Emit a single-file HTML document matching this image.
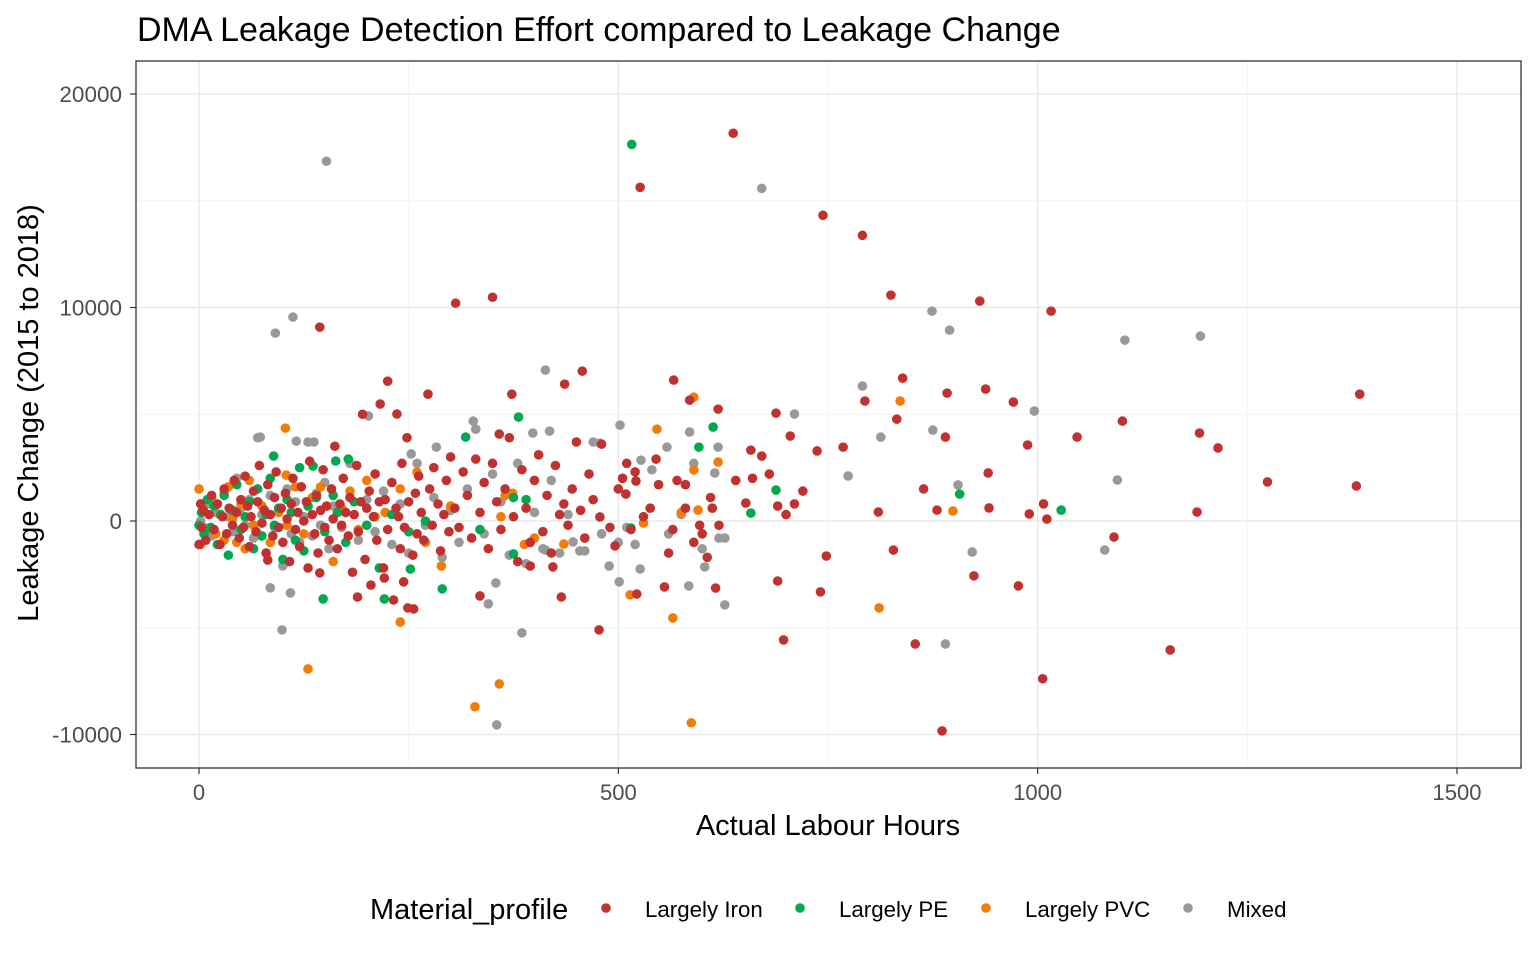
<!DOCTYPE html>
<html><head><meta charset="utf-8"><style>
body{margin:0;background:#fff;}
svg{display:block;font-family:"Liberation Sans",Arial,sans-serif;}
</style></head><body>
<svg id="chart" width="1536" height="960"></svg>
<script>
const xTicks=[0,500,1000,1500];
const xMinor=[250,750,1250];
const yTicks=[20000,10000,0,-10000];
const yMinor=[15000,5000,-5000];
const categories=["Largely Iron","Largely PE","Largely PVC","Mixed"];
const colors=["#c1312f","#00a84f","#f47b08","#999999"];
const ironPts=[[637,18160],[526,15630],[744,14320],[791,13380],[825,10580],[931,10300],[1016,9830],[306,10200],[350,10480],[144,9080],[1384,5940],[1101,4680],[1193,4120],[1215,3420],[1274,1830],[1380,1640],[1190,420],[1047,3930],[988,3560],[971,5570],[938,6180],[892,5990],[890,3930],[839,6690],[794,5620],[832,4770],[941,2250],[942,610],[990,330],[1007,800],[1011,90],[1091,-750],[977,-3040],[924,-2570],[854,-5760],[1006,-7390],[1158,-6040],[886,-9830],[828,-1360],[810,420],[864,1500],[880,510],[748,-1640],[741,-3320],[697,-5570],[690,-2810],[671,3040],[688,5050],[566,6600],[619,5240],[585,5660],[457,7020],[436,6410],[225,6550],[216,5480],[236,5010],[273,5940],[373,5940],[358,4070],[496,-1170],[478,190],[477,-5100],[555,-3090],[522,-3420],[616,-3140],[432,-3560],[335,-3510],[249,-4070],[256,-4120],[244,-2850],[221,-2670],[189,-3560],[144,-2430],[82,-1830],[395,-2110],[422,-2150],[521,1870],[509,1260],[652,840],[658,3320],[705,3980],[737,3280],[768,3460],
[0,-1100],[2,800],[3,-300],[5,500],[8,-900],[12,300],[15,1200],[18,-400],[22,800],[25,-1100],[28,200],[30,1500],[33,-600],[36,600],[40,-200],[42,1900],[45,400],[48,-800],[50,1000],[53,-300],[55,2100],[58,700],[60,-1200],[62,200],[65,1400],[68,-500],[70,900],[72,2600],[75,-100],[78,500],[80,-1500],[82,1700],[85,300],[88,-700],[90,1100],[92,2300],[95,-300],[98,600],[100,-1000],[103,1300],[105,100],[108,-1900],[110,800],[112,2000],[115,-400],[118,400],[120,-1200],[122,1600],[125,0],[128,900],[130,-2200],[132,2800],[135,300],[138,-600],[140,1200],[142,-1500],[145,500],[148,2400],[150,-300],[152,700],[155,-900],[158,1500],[160,100],[162,3500],[165,-1300],[168,800],[170,-200],[172,2000],[175,400],[178,-700],[180,1100],[183,-2400],[185,300],[188,2600],[190,-500],[193,900],[195,5000],[198,-1800],[200,600],[203,1400],[205,-3000],[208,200],[210,2200],[212,-900],[215,900],[220,-2200],[222,1000],[225,-400],[230,1800],[232,-3700],[235,600],[238,200],[240,-1300],[242,2700],[245,-300],[248,3900],[250,900],[255,-1600],[258,1300],[260,-600],[262,2100],[265,400],[268,-900],[275,1500],[278,-200],[280,2500],[285,800],[288,-1400],[292,300],[295,1900],[298,-500],[300,3000],[305,600],[310,-300],[315,2300],[320,1200],[325,-800],[330,2900],[335,400],[340,1800],[345,-1300],[350,2700],[355,900],[360,-400],[365,1500],[370,3900],[375,200],[380,-1900],[385,2400],[390,600],[395,-1000],[400,1900],[405,3100],[410,-500],[415,1200],[420,-1500],[425,2600],[430,300],[435,800],[440,-200],[445,1500],[450,3700],[455,500],[460,-800],[465,2200],[470,1000],[480,3600],[490,-300],[500,1500],[505,2000],[510,2700],[515,-400],[520,2300],[530,200],[545,2900],[560,-1500],[570,1900],[580,600],[590,-1000],[600,-600],[610,1100],[620,-200],[640,1900],[660,2000],[680,2200],[690,700],[700,300],[710,800],[720,1400],[580,1700],[597,-200],[606,-1700],[612,600],[548,1700],[565,-400],[538,600]];
const pePts=[[516,17640],[318,3930],[381,4870],[613,4400],[596,3460],[658,370],[688,1450],[907,1260],[1028,510],[221,-3650],[148,-3650],[252,-2250],[290,-3180],[375,-1540],[515,-330],[89,3040],[163,2810],[178,2900],[136,2570],
[0,-200],[3,400],[6,-600],[10,1000],[14,-300],[18,700],[22,-1100],[26,300],[30,1200],[35,-1600],[40,500],[45,1700],[50,-400],[55,200],[60,900],[65,-1300],[70,1500],[75,-700],[80,300],[85,2000],[90,-200],[95,600],[100,-1800],[105,1000],[110,400],[115,-900],[120,2500],[125,-1400],[130,700],[140,1100],[150,-500],[160,1200],[165,400],[175,-1000],[185,900],[200,-200],[215,-2200],[230,300],[250,-500],[270,0],[335,-400],[375,1100],[390,1000]];
const pvcPts=[[130,-6930],[329,-8700],[358,-7630],[587,-9450],[565,-4540],[514,-3460],[240,-4730],[811,-4070],[836,5620],[590,5800],[546,4300],[619,2760],[590,2390],[595,510],[899,470],[435,-1080],[289,-2110],[103,4350],[104,2150],[260,2290],
[0,1500],[2,-1100],[5,600],[10,-400],[15,1100],[20,-600],[25,300],[30,-900],[35,1600],[40,100],[45,-1000],[50,800],[55,-1300],[60,1900],[65,-200],[75,700],[85,-1000],[95,400],[105,-200],[115,1600],[125,-600],[135,1100],[145,1600],[160,-1900],[170,600],[180,1400],[190,-400],[200,1900],[210,200],[222,400],[240,1500],[270,-1000],[300,700],[360,200],[365,1200],[374,1300],[388,-1100],[400,-800],[530,-100],[575,400]];
const mixedPts=[[152,16850],[671,15580],[112,9550],[91,8800],[874,9830],[895,8940],[1104,8470],[1194,8660],[791,6320],[875,4260],[813,3930],[774,2110],[710,5010],[413,7070],[996,5150],[1095,1920],[1080,-1360],[922,-1450],[890,-5760],[905,1690],[627,-800],[627,-3930],[584,-3040],[603,-2150],[526,-2250],[501,-2850],[489,-2110],[355,-9550],[385,-5240],[345,-3880],[99,-5100],[85,-3130],[109,-3370],[354,-2900],[413,-1360],[454,-1400],[446,-980],[502,4490],[478,3650],[327,4680],[398,4120],[418,4210],[527,2850],[585,4170],[558,3460],[615,2250],[619,3460],[116,3740],[73,3930],[137,3700],[202,4920],[253,3140],[283,3460],
[2,0],[6,-300],[10,800],[15,-700],[20,400],[25,-1100],[30,1300],[35,200],[40,-500],[45,2000],[50,600],[55,-200],[60,1000],[65,-800],[70,3900],[75,300],[80,-1500],[85,1200],[90,-300],[95,500],[100,-2100],[105,1500],[110,-600],[115,900],[120,-1000],[125,200],[130,3700],[135,-700],[140,1300],[145,-200],[150,1800],[155,-1300],[160,700],[170,-300],[180,2700],[190,-900],[200,1000],[210,-500],[220,1400],[230,-1100],[240,800],[250,-1500],[260,2700],[270,-200],[280,1100],[290,-1700],[300,500],[310,-1000],[320,1500],[330,4300],[340,-600],[350,2200],[360,900],[370,-1600],[380,2700],[390,-2000],[400,400],[410,-1300],[420,1900],[430,-1500],[440,300],[460,-1400],[470,3700],[480,-600],[500,-1000],[510,-300],[520,-1100],[540,2400],[560,-600],[575,300],[590,2700],[600,-1300],[620,-800]];

const NS="http://www.w3.org/2000/svg";
const svg=document.getElementById("chart");
const P={l:136,t:61,r:1521,b:768};
const sx=v=>199+v*(1457-199)/1500;
const sy=v=>521-v*(521-94)/20000;
function el(tag,attrs,parent){const e=document.createElementNS(NS,tag);for(const k in attrs)e.setAttribute(k,attrs[k]);(parent||svg).appendChild(e);return e;}
function txt(s,attrs){const e=el("text",attrs);e.textContent=s;return e;}

const grid=el("g",{});


xMinor.forEach(v=>el("line",{x1:sx(v),x2:sx(v),y1:P.t,y2:P.b,stroke:"#f4f4f4","stroke-width":1},grid));
yMinor.forEach(v=>el("line",{x1:P.l,x2:P.r,y1:sy(v),y2:sy(v),stroke:"#f4f4f4","stroke-width":1},grid));
xTicks.forEach(v=>el("line",{x1:sx(v),x2:sx(v),y1:P.t,y2:P.b,stroke:"#ebebeb","stroke-width":1.5},grid));
yTicks.forEach(v=>el("line",{x1:P.l,x2:P.r,y1:sy(v),y2:sy(v),stroke:"#ebebeb","stroke-width":1.5},grid));

const series=[ironPts,pePts,pvcPts,mixedPts];
const order=[3,2,1,0];
order.forEach(ci=>{
  const g=el("g",{});
  
  
  series[ci].forEach(p=>{
    const c=el("circle",{cx:sx(p[0]),cy:sy(p[1]),r:4.8,fill:colors[ci]},g);
    
    
  });
});

const border=el("rect",{x:P.l,y:P.t,width:P.r-P.l,height:P.b-P.t,fill:"none",stroke:"#333","stroke-width":1.3});



xTicks.forEach(v=>{
  el("line",{x1:sx(v),x2:sx(v),y1:P.b,y2:P.b+6,stroke:"#333","stroke-width":1.2});
  const t=txt(String(v),{x:sx(v),y:P.b+32,"text-anchor":"middle","font-size":22,fill:"#4d4d4d"});
  
  
});
yTicks.forEach(v=>{
  el("line",{x1:P.l-6,x2:P.l,y1:sy(v),y2:sy(v),stroke:"#333","stroke-width":1.2});
  const t=txt(String(v),{x:P.l-14,y:sy(v)+8,"text-anchor":"end","font-size":22.5,fill:"#4d4d4d"});
  
  
});

const title=txt("DMA Leakage Detection Effort compared to Leakage Change",{x:137,y:41,"font-size":34,fill:"#000"});


const xt=txt("Actual Labour Hours",{x:828,y:835,"text-anchor":"middle","font-size":29,fill:"#000"});


const yt=txt("Leakage Change (2015 to 2018)",{x:0,y:0,"text-anchor":"middle","font-size":29,fill:"#000",transform:"translate(38,413) rotate(-90)"});



const lg=el("g",{});


const lt=txt("Material_profile",{x:370,y:919,"font-size":29,fill:"#000"});


const lx=[606,800,986,1188];
categories.forEach((c,i)=>{
  const g=el("g",{},lg);
  
  
  el("circle",{cx:lx[i],cy:908,r:4.8,fill:colors[i]},g);
  const t=el("text",{x:lx[i]+39,y:917,"font-size":22.3,fill:"#000"},g);
  t.textContent=c;
});
</script>
</body></html>
